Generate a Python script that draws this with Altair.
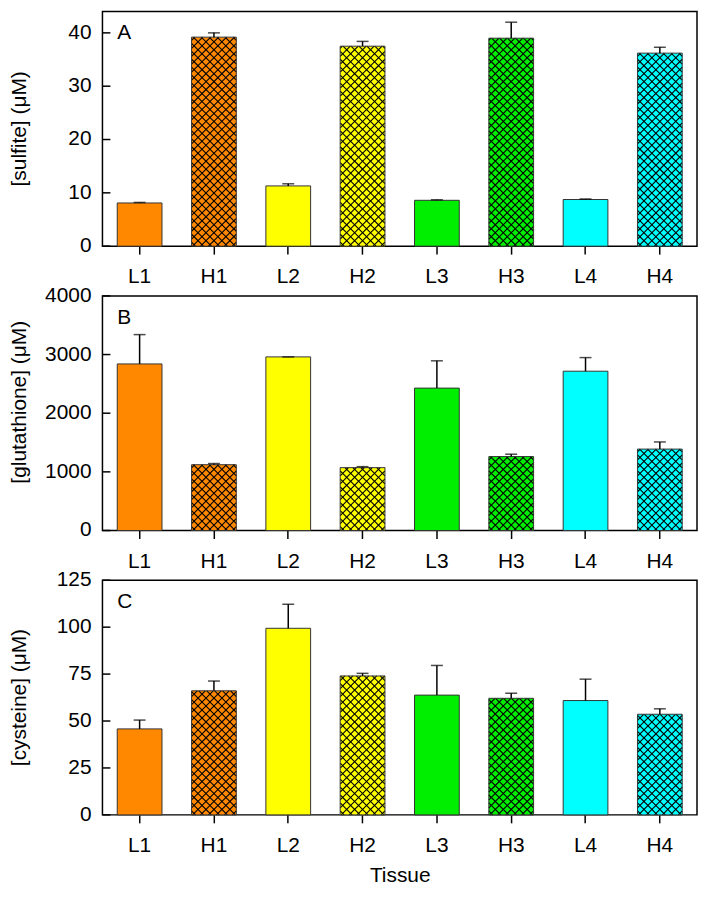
import altair as alt

# ---------------- data ----------------
tissues = ["L1", "H1", "L2", "H2", "L3", "H3", "L4", "H4"]
bar_colors = ["#FF8800", "#FF8800", "#FFFF00", "#FFFF00",
              "#00EE00", "#00EE00", "#00FFFF", "#00FFFF"]
hatched = [False, True, False, True, False, True, False, True]

sulfite = [8.1, 39.2, 11.3, 37.5, 8.6, 39.0, 8.75, 36.2]
sulfite_err = [0.1, 0.8, 0.4, 0.9, 0.1, 3.0, 0.1, 1.1]

glutathione = [2840, 1122, 2960, 1072, 2428, 1261, 2716, 1388]
glutathione_err = [500, 20, 0, 17, 465, 40, 232, 122]

cysteine = [45.8, 66.1, 99.4, 74.0, 63.8, 62.1, 60.9, 53.6]
cysteine_err = [4.7, 5.2, 12.8, 1.4, 15.8, 2.7, 11.4, 2.9]

sulfite_ticks = [0, 10, 20, 30, 40]
glutathione_ticks = [0, 1000, 2000, 3000, 4000]
cysteine_ticks = [0, 25, 50, 75, 100, 125]

# ---------------- style ----------------
FONT = "Liberation Sans"
FS = 21
PLOT_W = 598
PLOT_H = 236
BAR_W = 45
HATCH_P = 8.0
N = len(tissues)
STEP = PLOT_W / N


def hatch_rows(values, ymax):
    """Cross-hatch segments (45 degrees) clipped to each hatched bar."""
    rows = []
    for i, (v, hh) in enumerate(zip(values, hatched)):
        if not hh:
            continue
        w = float(BAR_W)
        h = v / ymax * PLOT_H
        xl = (i + 0.5) * STEP - w / 2

        def add(xa, ya, xb, yb):
            rows.append({"hx": (xl + xa) / PLOT_W * N, "hx2": (xl + xb) / PLOT_W * N,
                         "hy": ya / PLOT_H * ymax, "hy2": yb / PLOT_H * ymax})

        c = -w + HATCH_P / 2
        while c < h:
            xa, xb = max(0.0, -c), min(w, h - c)
            if xb > xa:
                add(xa, xa + c, xb, xb + c)
            c += HATCH_P
        c = HATCH_P / 2
        while c < w + h:
            xa, xb = max(0.0, c - h), min(w, c)
            if xb > xa:
                add(xa, c - xa, xb, c - xb)
            c += HATCH_P
    return rows


def panel(values, errs, ymax, ticks, ytitle, letter, xtitle, title_y):
    rows = [{"tissue": t, "value": v, "upper": v + e, "color": col}
            for t, v, e, col in zip(tissues, values, errs, bar_colors)]
    data = alt.Data(values=rows)
    tick_data = alt.Data(values=[{"t": v, "s": str(v)} for v in ticks])

    yscale = alt.Scale(domain=[0, ymax], nice=False, zero=True)
    xscale = alt.Scale(domain=tissues, paddingInner=0, paddingOuter=0)

    x_axis = alt.Axis(labelAngle=0, tickSize=8, tickWidth=1.5, tickColor="black",
                      labelPadding=12, domain=False, grid=False,
                      labelFont=FONT, labelFontSize=FS, labelColor="black",
                      title=xtitle, titleFont=FONT, titleFontSize=FS,
                      titleFontWeight="normal", titleColor="black", titlePadding=9)

    X = alt.X("tissue:N", scale=xscale, axis=x_axis, sort=tissues)
    Xn = alt.X("tissue:N", scale=xscale, axis=None, sort=tissues)

    base = alt.Chart(data).mark_bar(size=BAR_W).encode(
        x=X, y=alt.Y("value:Q", scale=yscale, axis=None),
        fill=alt.Fill("color:N", scale=None))
    hatch = alt.Chart(alt.Data(values=hatch_rows(values, ymax))).mark_rule(
        color="black", strokeWidth=1.1).encode(
        x=alt.X("hx:Q", scale=alt.Scale(domain=[0, N], nice=False, zero=False),
                axis=None),
        x2="hx2:Q",
        y=alt.Y("hy:Q", scale=yscale, axis=None), y2="hy2:Q")
    outline = alt.Chart(data).mark_bar(size=BAR_W, fill="transparent",
                                       stroke="#333333", strokeWidth=1).encode(
        x=Xn, y=alt.Y("value:Q", scale=yscale, axis=None))
    err = alt.Chart(data).mark_rule(color="black", strokeWidth=1.5).encode(
        x=Xn, y=alt.Y("value:Q", scale=yscale, axis=None), y2="upper:Q")
    cap = alt.Chart(data).mark_tick(color="black", size=12, thickness=1.5,
                                    orient="horizontal").encode(
        x=Xn, y=alt.Y("upper:Q", scale=yscale, axis=None))
    tk = alt.Chart(tick_data).mark_rule(color="black", strokeWidth=1.5).encode(
        y=alt.Y("t:Q", scale=yscale, axis=None), x=alt.value(0), x2=alt.value(8))
    ylabels = alt.Chart(tick_data).mark_text(
        align="right", baseline="middle", font=FONT, fontSize=FS,
        color="black").encode(
        y=alt.Y("t:Q", scale=yscale, axis=None), x=alt.value(-11), text="s:N")
    ytitle_mark = alt.Chart(alt.Data(values=[{"label": ytitle}])).mark_text(
        align="center", baseline="bottom", angle=270, font=FONT, fontSize=FS,
        color="black").encode(text="label:N", x=alt.value(-73),
                              y=alt.value(title_y))
    lab = alt.Chart(alt.Data(values=[{"label": letter}])).mark_text(
        align="left", baseline="alphabetic", font=FONT, fontSize=FS,
        color="black").encode(text="label:N", x=alt.value(15), y=alt.value(28))

    return alt.layer(base, hatch, outline, err, cap, tk, ylabels, ytitle_mark,
                     lab).resolve_scale(x="independent").properties(
        width=PLOT_W, height=PLOT_H)


pA = panel(sulfite, sulfite_err, 44, sulfite_ticks, "[sulfite] (μM)", "A", None,
           PLOT_H / 2)
pB = panel(glutathione, glutathione_err, 4000, glutathione_ticks,
           "[glutathione] (μM)", "B", None, PLOT_H / 2 - 11)
pC = panel(cysteine, cysteine_err, 125, cysteine_ticks, "[cysteine] (μM)", "C",
           "Tissue", PLOT_H / 2)

chart = alt.vconcat(pA, pB, pC, spacing=-4).properties(
    padding=0, background="white"
).configure_view(stroke="black", strokeWidth=1.5)

chart.save("out.html", embed_options={"renderer": "svg", "actions": False})
